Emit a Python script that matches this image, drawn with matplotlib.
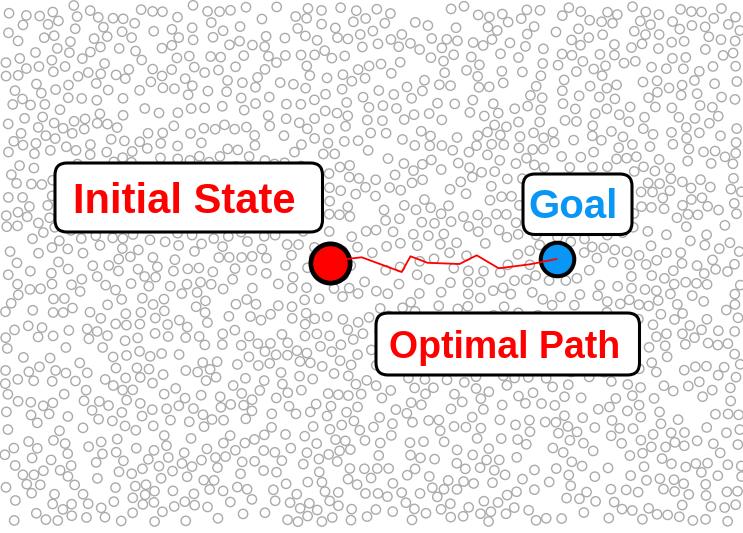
import numpy as np
import matplotlib
matplotlib.use("Agg")
import matplotlib.pyplot as plt
from matplotlib.patches import FancyBboxPatch

plt.rcParams['font.family'] = ['Liberation Sans', 'DejaVu Sans']

# ---- data (picture pixel coordinates, y downward) ----
start_xy = (329.7, 262.5)
goal_xy = (556.5, 259.0)
path_x = [329.7, 346.7, 361.7, 401.7, 410.5, 427.5, 459.5, 476.7, 498.7, 530.0, 556.5]
path_y = [262.5, 259.0, 257.3, 272.0, 256.3, 262.8, 264.0, 255.3, 268.3, 264.3, 259.0]

labels = ["Initial State", "Goal", "Optimal Path"]
label_colors = ["#ff0000", "#0a96f5", "#ff0000"]
label_sizes = [30, 29, 27]
label_pos = [(183.8, 213.3), (573.2, 218.3), (504.5, 358.3)]
box_rects = [(55.0, 163.0, 267.5, 69.0), (523.0, 174.0, 109.0, 60.5), (376.0, 313.0, 263.5, 62.0)]

# background sample cloud: individual sample positions cannot be read from the
# picture, so a sample field of similar density is built (decorative texture)
rng = np.random.default_rng(7)
n_samples, min_dist = 1700, 9.8
pts = np.empty((0, 2))
while len(pts) < n_samples:
    c = rng.uniform([4, 5], [742, 522], size=(1, 2))
    if len(pts) == 0 or np.min(np.hypot(*(pts - c).T)) >= min_dist:
        pts = np.vstack([pts, c])
sample_x, sample_y = pts[:, 0], pts[:, 1]

W, H = 743, 533
fig = plt.figure(figsize=(W / 100, H / 100), dpi=100)
ax = fig.add_axes([0, 0, 1, 1])
ax.set_xlim(0, W)
ax.set_ylim(H, 0)
ax.axis('off')

ax.scatter(sample_x, sample_y, s=45, facecolors='none', edgecolors='#aaaaaa',
           linewidths=1.0, zorder=1)

for (bx, by, bw, bh) in box_rects:
    ax.add_patch(FancyBboxPatch((bx, by), bw, bh,
                                boxstyle="round,pad=0,rounding_size=12",
                                facecolor='white', edgecolor='black',
                                linewidth=2.2, zorder=3))
for txt, col, fs, (tx, ty) in zip(labels, label_colors, label_sizes, label_pos):
    ax.text(tx, ty, txt, color=col, fontsize=fs, fontweight='bold',
            ha='center', va='baseline', zorder=4)

ax.scatter([start_xy[0]], [start_xy[1]], s=800, color='#ff0000',
           edgecolors='black', linewidths=3.4, zorder=5)
ax.scatter([goal_xy[0]], [goal_xy[1]], s=582, color='#0a96f5',
           edgecolors='black', linewidths=2.9, zorder=5)
ax.plot(path_x, path_y, color='#ff0000', linewidth=1.3, zorder=6)

fig.savefig("out.png", dpi=100)
